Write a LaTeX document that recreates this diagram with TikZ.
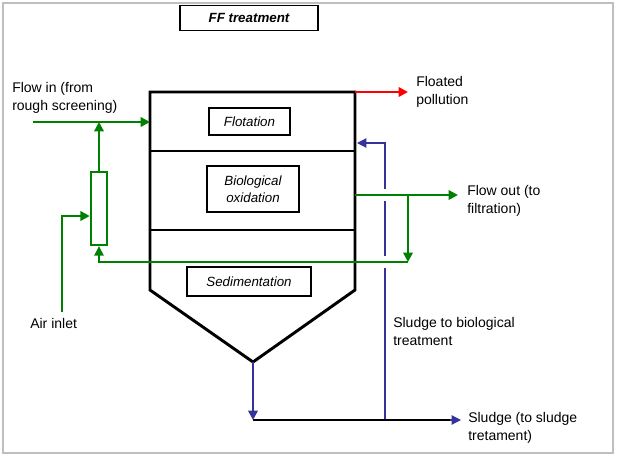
\documentclass[tikz,border=0pt]{standalone}
\usepackage{fontspec}
\setmainfont{Liberation Sans}
\usetikzlibrary{arrows.meta}
\definecolor{gr}{RGB}{0,128,0}
\definecolor{bl}{RGB}{51,51,153}
\begin{document}
\begin{tikzpicture}[x=0.75pt,y=-0.75pt,
  tank/.style={line width=2.2pt},
  inner/.style={line width=1.2pt},
  lab/.style={draw,line width=0.9pt,font=\fontsize{10}{13}\selectfont\itshape,align=center,inner sep=0pt},
  txt/.style={font=\fontsize{10.5}{13.5}\selectfont,align=left,anchor=north west,inner sep=0pt},
  tip/.style={-{Triangle[length=7pt,width=7pt]}},
  gthick/.style={gr,line width=1.8pt},
  gthin/.style={gr,line width=0.9pt},
  bthin/.style={bl,line width=0.9pt}]
\useasboundingbox (0,0) rectangle (617,457);
\draw[gray!50,line width=0.8pt] (3,3) rectangle (613,453);
\node[lab,font=\fontsize{10}{13}\selectfont\bfseries\itshape,minimum width=103.5pt,minimum height=18.75pt] (title) at (249,18) {FF treatment};
% tank
\coordinate (tl) at (150,92); \coordinate (tr) at (355,92);
\coordinate (bl) at (150,290); \coordinate (br) at (355,290);
\coordinate (apex) at (253,362);
\draw[tank] (bl) -- (tl) -- (tr) -- (br) -- (apex) -- cycle;
\draw[inner] (150,151) -- (355,151);
\draw[inner] (150,230) -- (355,230);
\node[lab,minimum width=60.75pt,minimum height=20.25pt] (flot) at (249.5,121.5) {Flotation};
\node[lab,minimum width=69pt,minimum height=34.5pt] (bio) at (253,189) {Biological\\oxidation};
\node[lab,minimum width=93pt,minimum height=21.75pt] (sed) at (249,281.5) {Sedimentation};
% red
\coordinate (red1) at (408,92);
\draw[red,line width=1.8pt,tip] (tr) -- (red1);
\node[txt] (fp) at (416,76) {Floated\\pollution};
% green inflow
\coordinate (in0) at (33,122); \coordinate (in1) at (150,122); \coordinate (j1) at (99,122);
\draw[gthick,tip] (in0) -- (in1);
\node[txt] (fi) at (12,82) {Flow in (from\\rough screening)};
\node[draw=gr,line width=1.8pt,minimum width=12pt,minimum height=54.75pt,inner sep=0pt] (col) at (99,208.5) {};
\draw[gthick,tip] (col.north) -- (j1);
\coordinate (ai0) at (62,312); \coordinate (ai1) at (62,216);
\draw[gthick,tip] (ai0) -- (ai1) -- (col.west |- ai1);
\node[txt] (ai) at (30,318) {Air inlet};
\coordinate (r0) at (408,262); \coordinate (r1) at (99,262);
\draw[gthin,tip] (r0) -- (r1) -- (col.south);
\coordinate (o0) at (355,195); \coordinate (o1) at (458,195); \coordinate (od) at (408,195);
\draw[gthick,tip] (o0) -- (o1);
\draw[gthick,tip] (od) -- (r0);
\node[txt] (fo) at (467,185) {Flow out (to\\filtration)};
% blue
\coordinate (b0) at (385,420); \coordinate (b1) at (385,143); \coordinate (b2) at (357,143);
\draw[bthin] (b0) -- (385,268);
\draw[bthin] (385,256) -- (385,201);
\draw[bthin,tip] (385,189) -- (b1) -- (b2);
\coordinate (s0) at (253,420); \coordinate (s1) at (461,420);
\draw[bl,line width=1.8pt,tip] (apex) -- (s0);
\draw[line width=0.9pt] (s0) -- (452,420);
\draw[bl,line width=0.9pt,tip] (450,420) -- (s1);
\node[txt] (sb) at (393,317) {Sludge to biological\\treatment};
\node[txt] (ss) at (468,412) {Sludge (to sludge\\tretament)};
\end{tikzpicture}
\end{document}
